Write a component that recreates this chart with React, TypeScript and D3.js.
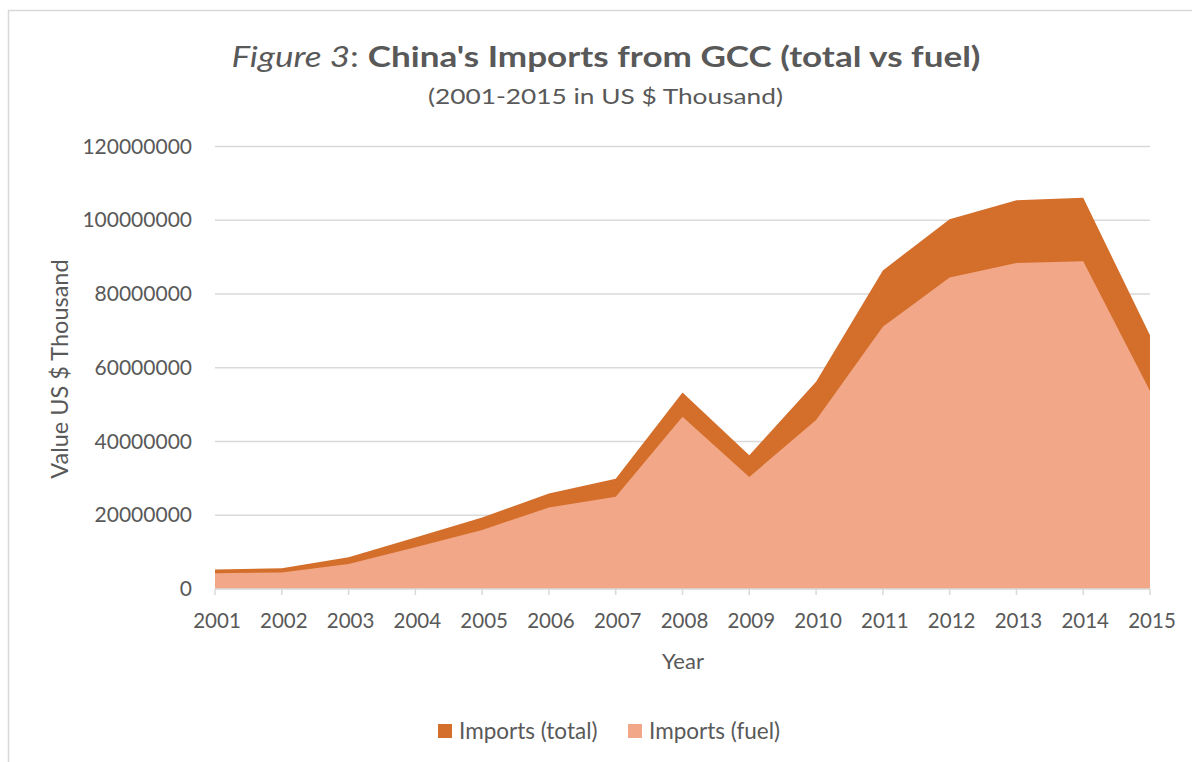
import React from "react";
import * as d3 from "d3";

const years = [2001, 2002, 2003, 2004, 2005, 2006, 2007, 2008, 2009, 2010, 2011, 2012, 2013, 2014, 2015];
const importsTotal = [5300000, 5600000, 8600000, 14000000, 19400000, 25900000, 29900000, 53300000, 36300000, 56200000, 86400000, 100300000, 105400000, 106100000, 68800000];
const importsFuel = [4300000, 4500000, 6800000, 11300000, 16000000, 22100000, 25000000, 46700000, 30400000, 45800000, 71100000, 84500000, 88400000, 88900000, 53700000];
const yTicks = [0, 20000000, 40000000, 60000000, 80000000, 100000000, 120000000];
const seriesNames = ["Imports (total)", "Imports (fuel)"];

const W = 1192;
const H = 762;
const FONT = "Lato, 'Open Sans', 'DejaVu Sans', sans-serif";
const TXT = "#595959";
const C_TOTAL = "#D46F2B";
const C_FUEL = "#F1A788";

export default function App() {
  const x = d3.scaleLinear().domain([years[0], years[years.length - 1]]).range([215, 1150]);
  const y = d3.scaleLinear().domain([0, 120000000]).range([589, 146.5]);

  const area = d3
    .area<[number, number]>()
    .x((d) => x(d[0]))
    .y0(() => y(0))
    .y1((d) => y(d[1]));

  const totalPath = area(years.map((yr, i) => [yr, importsTotal[i]]) as [number, number][]) || "";
  const fuelPath = area(years.map((yr, i) => [yr, importsFuel[i]]) as [number, number][]) || "";

  return (
    <svg
      width={W}
      height={H}
      style={{ position: "absolute", left: 0, top: 0, background: "#fff" }}
      fontFamily={FONT}
    >
      <rect x={0} y={0} width={W} height={H} fill="#fff" />
      <rect x={8.5} y={10.5} width={W + 20} height={H + 20} fill="none" stroke="#d9d9d9" strokeWidth={1.5} />

      {/* Title */}
      <text x={606} y={67} textAnchor="middle" fill={TXT} fontSize={29} textLength={749} lengthAdjust="spacingAndGlyphs">
        <tspan fontStyle="italic">Figure 3</tspan>
        <tspan>: </tspan>
        <tspan fontWeight="bold">China's Imports from GCC (total vs fuel)</tspan>
      </text>
      <text x={605.5} y={104} textAnchor="middle" fill={TXT} fontSize={22} textLength={355} lengthAdjust="spacingAndGlyphs">
        (2001-2015 in US $ Thousand)
      </text>

      {/* gridlines */}
      {yTicks.map((t) =>
        t === 0 ? null : (
          <line key={"g" + t} x1={x(years[0])} x2={x(years[years.length - 1])} y1={y(t)} y2={y(t)} stroke="#d9d9d9" strokeWidth={1.5} />
        )
      )}

      {/* areas */}
      <path d={totalPath} fill={C_TOTAL} />
      <path d={fuelPath} fill={C_FUEL} />

      {/* x axis */}
      <line x1={x(years[0])} x2={x(years[years.length - 1])} y1={y(0)} y2={y(0)} stroke="#d9d9d9" strokeWidth={1.5} />
      {years.map((yr) => (
        <g key={yr}>
          <line x1={x(yr)} x2={x(yr)} y1={y(0)} y2={y(0) + 6} stroke="#d9d9d9" strokeWidth={1.5} />
          <text x={x(yr) + 2} y={628} textAnchor="middle" fill={TXT} fontSize={20.5}>
            {yr}
          </text>
        </g>
      ))}

      {/* y axis labels */}
      {yTicks.map((t) => (
        <text key={"y" + t} x={192} y={y(t) + 7} textAnchor="end" fill={TXT} fontSize={21}>
          {t}
        </text>
      ))}

      {/* axis titles */}
      <text x={683} y={669} textAnchor="middle" fill={TXT} fontSize={22}>
        Year
      </text>
      <text transform={`translate(68,369) rotate(-90)`} textAnchor="middle" fill={TXT} fontSize={23.5}>
        Value US $ Thousand
      </text>

      {/* legend */}
      <rect x={438} y={724} width={14} height={14} fill={C_TOTAL} />
      <text x={459} y={739} fill={TXT} fontSize={22.5}>
        {seriesNames[0]}
      </text>
      <rect x={628} y={724} width={14} height={14} fill={C_FUEL} />
      <text x={649} y={739} fill={TXT} fontSize={22.5}>
        {seriesNames[1]}
      </text>
    </svg>
  );
}
